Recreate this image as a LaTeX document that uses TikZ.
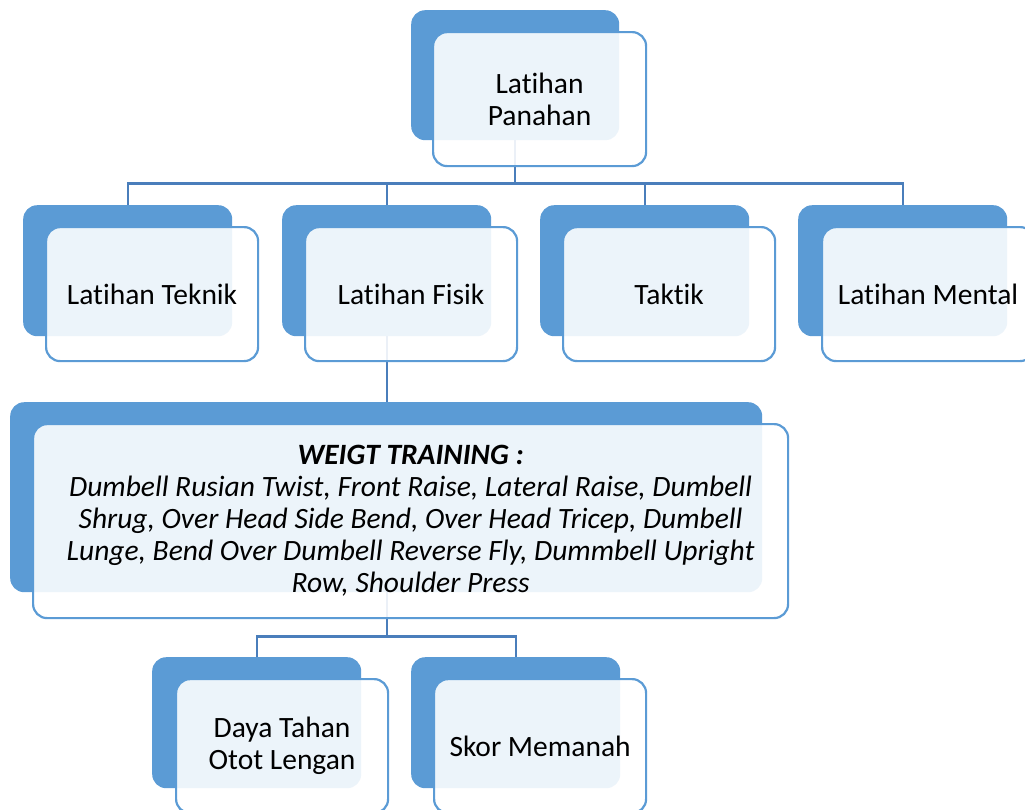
\documentclass[tikz,border=0pt]{standalone}
\usepackage{fontspec}
\setmainfont{Carlito}[Ligatures={NoCommon}]
\definecolor{accent}{HTML}{5B9BD5}
\definecolor{linkc}{HTML}{4A7EBB}
\begin{document}
\begin{tikzpicture}[x=1pt,y=-1pt,
  back/.style={rectangle, rounded corners=14pt, fill=accent, inner sep=0pt, anchor=north west},
  front/.style={rectangle, rounded corners=14pt, draw=accent, line width=2.2pt, fill=white, fill opacity=0.89, draw opacity=1, text opacity=1, inner sep=0pt, anchor=north west, align=center, font=\fontsize{29.5}{32}\selectfont},
  small/.style={minimum width=209pt, minimum height=131pt},
  smallf/.style={minimum width=212pt, minimum height=134pt},
  link/.style={draw=linkc, line width=2.4pt}]
\useasboundingbox (0,0) rectangle (1025,809);
\clip (0,0) rectangle (1025,809);
% back rectangles
\node[back, minimum width=208pt, minimum height=130pt] (topb) at (411,10) {};
\node[back, small] (tekb) at (23,205) {};
\node[back, small] (fisb) at (282,205) {};
\node[back, small] (takb) at (540,205) {};
\node[back, small] (menb) at (798,205) {};
\node[back, minimum width=752pt, minimum height=190pt] (wtb) at (10,402) {};
\node[back, small] (dayb) at (152,657) {};
\node[back, small] (skob) at (411,657) {};
% connectors
\draw[link] (topb.south) -- ++(0,43) coordinate (h1);
\draw[link] (tekb.north) -- (tekb.north |- h1) -- (menb.north |- h1) -- (menb.north);
\draw[link] (fisb.north) -- (fisb.north |- h1);
\draw[link] (takb.north) -- (takb.north |- h1);
\draw[link] (fisb.south) -- (wtb.north -| fisb.south);
\draw[link] (wtb.south -| fisb.south) -- ++(0,44) coordinate (h2);
\draw[link] (dayb.north) -- (dayb.north |- h2) -- (skob.north |- h2) -- (skob.north);
% front rectangles
\node[front, minimum width=213pt, minimum height=134pt] (topf) at (432,31) {Latihan\\Panahan};
\node[front, smallf] (tekf) at (45,226) {Latihan Teknik};
\node[front, smallf] (fisf) at (304,226) {Latihan Fisik};
\node[front, smallf] (takf) at (562,226) {Taktik};
\node[front, smallf] (menf) at (821,226) {Latihan Mental};
\node[front, minimum width=755pt, minimum height=194pt, font=\fontsize{29.5}{32}\selectfont\itshape] (wtf) at (32,423) {\textbf{WEIGT TRAINING :}\\Dumbell Rusian Twist, Front Raise, Lateral Raise, Dumbell\\Shrug, Over Head Side Bend, Over Head Tricep, Dumbell\\Lunge, Bend Over Dumbell Reverse Fly, Dummbell Upright\\Row, Shoulder Press};
\node[front, smallf] (dayf) at (175,678) {Daya Tahan\\Otot Lengan};
\node[front, smallf] (skof) at (433,678) {Skor Memanah};
\end{tikzpicture}
\end{document}
